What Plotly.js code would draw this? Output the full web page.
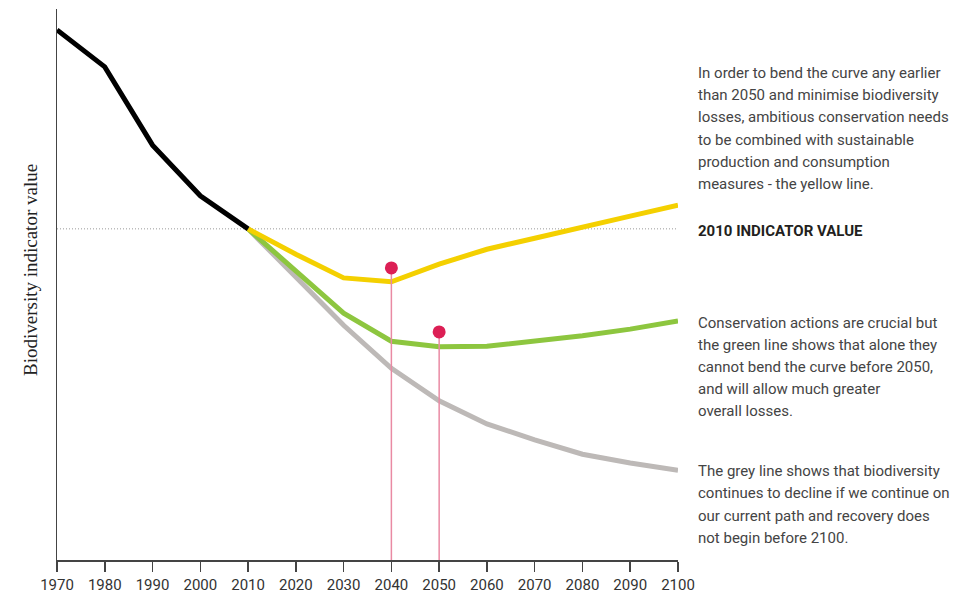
<!DOCTYPE html>
<html><head><meta charset="utf-8">
<script src="https://cdn.plot.ly/plotly-3.0.1.min.js"></script>
<style>html,body{margin:0;padding:0;background:#fff}#chart{width:978px;height:598px}</style>
</head><body><div id="chart"></div>
<script>
// Data (indicator values, arbitrary units)
const histYears = [1970, 1980, 1990, 2000, 2010];
const histValues = [96.2, 89.5, 75.3, 66.1, 60.1];
const projYears = [2010, 2020, 2030, 2040, 2050, 2060, 2070, 2080, 2090, 2100];
const yellowValues = [60.1, 55.5, 51.2, 50.5, 53.7, 56.4, 58.4, 60.3, 62.4, 64.4];
const greenValues = [60.1, 52.4, 44.8, 39.7, 38.7, 38.8, 39.7, 40.7, 41.9, 43.4];
const greyValues = [60.1, 51.5, 42.6, 34.8, 28.9, 24.7, 21.8, 19.2, 17.6, 16.3];
const baseline2010 = 60.1;
const markerYears = [2040, 2050];
const markerValues = [53.0, 41.4];
const tickYears = [1970,1980,1990,2000,2010,2020,2030,2040,2050,2060,2070,2080,2090,2100];

const para1 = ["In order to bend the curve any earlier","than 2050 and minimise biodiversity","losses, ambitious conservation needs","to be combined with sustainable","production and consumption","measures - the yellow line."];
const heading = "2010 INDICATOR VALUE";
const para2 = ["Conservation actions are crucial but","the green line shows that alone they","cannot bend the curve before 2050,","and will allow much greater","overall losses."];
const para3 = ["The grey line shows that biodiversity","continues to decline if we continue on","our current path and recovery does","not begin before 2100."];
const yTitle = "Biodiversity indicator value";

const TOP = 9, BOT = 560;
function py(px){ return (BOT - px) / (BOT - TOP); }
const textFont = {family: "Roboto, sans-serif", size: 15, color: "#444"};

const traces = [
  {x: [1970, 2100], y: [baseline2010, baseline2010], mode: "lines", line: {color: "#999", width: 1, dash: "1px,2px"}, hoverinfo: "skip"},
  {x: projYears, y: greyValues, mode: "lines", line: {color: "#bdb9b7", width: 5}},
  {x: projYears, y: greenValues, mode: "lines", line: {color: "#8dc63f", width: 5}},
  {x: projYears, y: yellowValues, mode: "lines", line: {color: "#f4d000", width: 5}},
  {x: histYears, y: histValues, mode: "lines", line: {color: "#000", width: 5}},
];
markerYears.forEach((yr, i) => {
  traces.push({x: [yr, yr], y: [0, markerValues[i]], mode: "lines", line: {color: "#e98aa3", width: 1.5}, hoverinfo: "skip"});
});
traces.push({x: markerYears, y: markerValues, mode: "markers", marker: {color: "#dc1f55", size: 13}});

const ann = [];
function addLines(lines, startPx, step){
  lines.forEach((t, i) => ann.push({xref: "paper", yref: "paper", x: (696-57)/621, y: py(startPx + i*step), xanchor: "left", yanchor: "middle", text: t, showarrow: false, font: textFont}));
}
addLines(para1, 73, 22.2);
addLines(para2, 323, 22);
addLines(para3, 471, 22.3);
ann.push({xref: "paper", yref: "paper", x: (696-57)/621, y: py(231), xanchor: "left", yanchor: "middle", text: "<b>" + heading + "</b>", showarrow: false, font: {family: "Roboto, sans-serif", size: 15, color: "#231f20"}});
ann.push({xref: "paper", yref: "paper", x: (30-57)/621, y: py(270), xanchor: "center", yanchor: "middle", textangle: -90, text: yTitle, showarrow: false, font: {family: "Liberation Serif, DejaVu Serif, serif", size: 19, color: "#222"}});

const layout = {
  width: 978, height: 598,
  margin: {l: 57, r: 300, t: TOP, b: 598 - BOT},
  paper_bgcolor: "#fff", plot_bgcolor: "#fff",
  showlegend: false,
  xaxis: {range: [1970, 2100], tickvals: tickYears, ticktext: tickYears.map(String), ticks: "outside", ticklen: 10, tickcolor: "#444", tickwidth: 1.5, showline: true, linecolor: "#444", linewidth: 1.5, showgrid: false, zeroline: false, tickfont: {family: "Roboto, sans-serif", size: 15, color: "#333"}, fixedrange: true},
  yaxis: {range: [0, 100], showticklabels: false, ticks: "", showline: true, linecolor: "#444", linewidth: 1.5, showgrid: false, zeroline: false, fixedrange: true},
  annotations: ann
};
Plotly.newPlot("chart", traces, layout, {displayModeBar: false, staticPlot: true});
</script></body></html>
